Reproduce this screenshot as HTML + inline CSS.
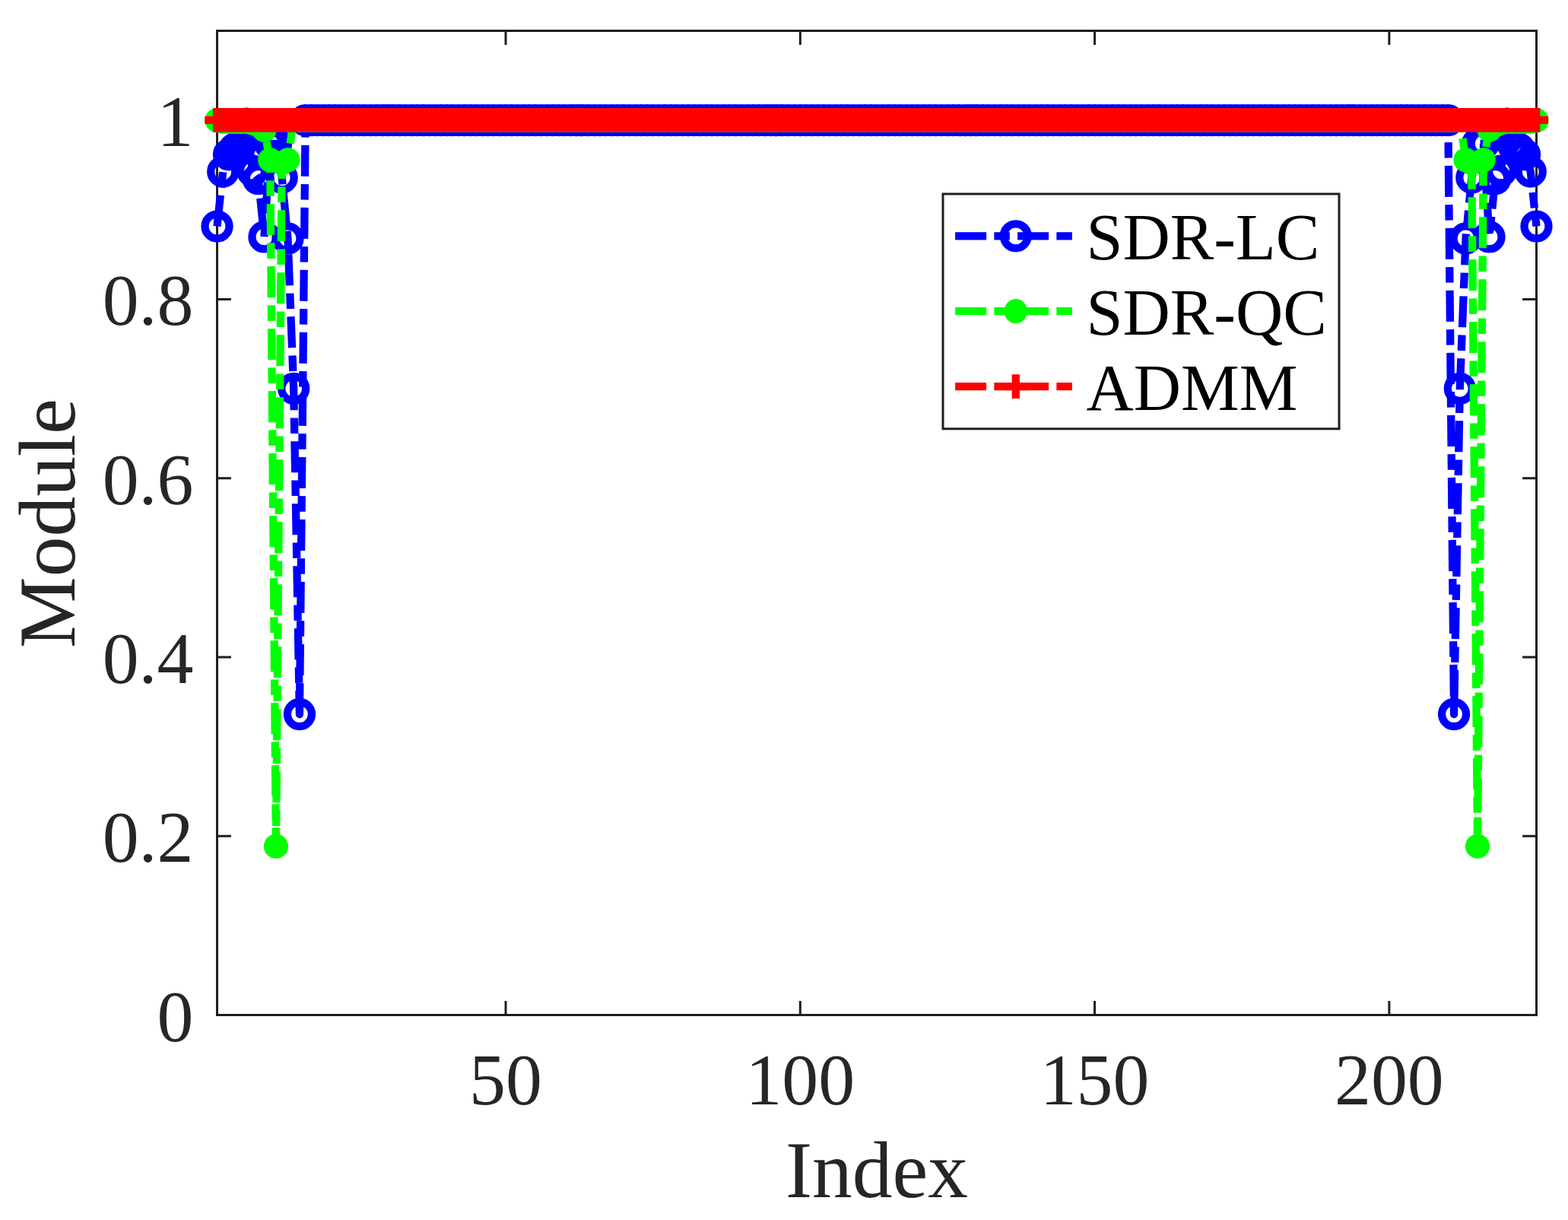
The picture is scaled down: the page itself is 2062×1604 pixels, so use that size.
<!DOCTYPE html>
<html lang="en"><head><meta charset="utf-8"><title>Module vs Index</title>
<style>html,body{margin:0;padding:0;background:#fff}body{width:2062px;height:1604px;overflow:hidden}svg{display:block}text{font-family:"Liberation Serif","Times New Roman",Times,serif}.t{font-size:95.83px;fill:#262626}.l{font-size:105.40px;fill:#262626}.g{font-size:86.25px;fill:#000}</style></head><body>
<svg width="2062" height="1604" viewBox="0 0 2062 1604" role="img" aria-label="Module versus Index for SDR-LC, SDR-QC and ADMM">
<rect x="0" y="0" width="2062" height="1604" fill="#ffffff"/>
<g stroke="#1e1e1e" stroke-width="3.00" fill="none" stroke-linecap="butt">
<rect x="285.50" y="40.50" width="1735.00" height="1294.00"/>
<path d="M665.03 1334.50V1316.10M665.03 40.50V58.90M1052.31 1334.50V1316.10M1052.31 40.50V58.90M1439.58 1334.50V1316.10M1439.58 40.50V58.90M1826.86 1334.50V1316.10M1826.86 40.50V58.90M285.50 1334.50H303.90M2020.50 1334.50H2002.10M285.50 1099.23H303.90M2020.50 1099.23H2002.10M285.50 863.95H303.90M2020.50 863.95H2002.10M285.50 628.68H303.90M2020.50 628.68H2002.10M285.50 393.41H303.90M2020.50 393.41H2002.10M285.50 158.14H303.90M2020.50 158.14H2002.10"/>
</g>
<text class="t" x="665.03" y="1452.00" text-anchor="middle">50</text>
<text class="t" x="1052.31" y="1452.00" text-anchor="middle">100</text>
<text class="t" x="1439.58" y="1452.00" text-anchor="middle">150</text>
<text class="t" x="1826.86" y="1452.00" text-anchor="middle">200</text>
<text class="t" x="254.50" y="1368.50" text-anchor="end">0</text>
<text class="t" x="254.50" y="1133.23" text-anchor="end">0.2</text>
<text class="t" x="254.50" y="897.95" text-anchor="end">0.4</text>
<text class="t" x="254.50" y="662.68" text-anchor="end">0.6</text>
<text class="t" x="254.50" y="427.41" text-anchor="end">0.8</text>
<text class="t" x="254.50" y="192.14" text-anchor="end">1</text>
<text class="l" x="1153.00" y="1573.50" text-anchor="middle">Index</text>
<text class="l" transform="translate(98.20 688.00) rotate(-90)" text-anchor="middle">Module</text>
<g stroke="#0000ff" fill="none" stroke-width="10.30">
<polyline points="285.50,297.54 293.25,225.66 300.99,203.31 308.74,195.54 316.48,189.90 324.23,162.61 331.97,224.48 339.72,235.19 347.46,311.42 355.21,188.96 362.96,188.96 370.70,233.42 378.45,313.42 386.19,510.81 393.94,939.01 401.68,158.14 409.43,158.14 417.17,158.14 424.92,158.14 432.67,158.14 440.41,158.14 448.16,158.14 455.90,158.14 463.65,158.14 471.39,158.14 479.14,158.14 486.88,158.14 494.63,158.14 502.38,158.14 510.12,158.14 517.87,158.14 525.61,158.14 533.36,158.14 541.10,158.14 548.85,158.14 556.59,158.14 564.34,158.14 572.08,158.14 579.83,158.14 587.58,158.14 595.32,158.14 603.07,158.14 610.81,158.14 618.56,158.14 626.30,158.14 634.05,158.14 641.79,158.14 649.54,158.14 657.29,158.14 665.03,158.14 672.78,158.14 680.52,158.14 688.27,158.14 696.01,158.14 703.76,158.14 711.50,158.14 719.25,158.14 727.00,158.14 734.74,158.14 742.49,158.14 750.23,158.14 757.98,158.14 765.72,158.14 773.47,158.14 781.21,158.14 788.96,158.14 796.71,158.14 804.45,158.14 812.20,158.14 819.94,158.14 827.69,158.14 835.43,158.14 843.18,158.14 850.92,158.14 858.67,158.14 866.42,158.14 874.16,158.14 881.91,158.14 889.65,158.14 897.40,158.14 905.14,158.14 912.89,158.14 920.63,158.14 928.38,158.14 936.12,158.14 943.87,158.14 951.62,158.14 959.36,158.14 967.11,158.14 974.85,158.14 982.60,158.14 990.34,158.14 998.09,158.14 1005.83,158.14 1013.58,158.14 1021.33,158.14 1029.07,158.14 1036.82,158.14 1044.56,158.14 1052.31,158.14 1060.05,158.14 1067.80,158.14 1075.54,158.14 1083.29,158.14 1091.04,158.14 1098.78,158.14 1106.53,158.14 1114.27,158.14 1122.02,158.14 1129.76,158.14 1137.51,158.14 1145.25,158.14 1153.00,158.14" stroke-dasharray="41 10.25 20.5 10.25" stroke-dashoffset="0.00" stroke-linejoin="round"/>
<polyline points="1153.00,158.14 1160.75,158.14 1168.49,158.14 1176.24,158.14 1183.98,158.14 1191.73,158.14 1199.47,158.14 1207.22,158.14 1214.96,158.14 1222.71,158.14 1230.46,158.14 1238.20,158.14 1245.95,158.14 1253.69,158.14 1261.44,158.14 1269.18,158.14 1276.93,158.14 1284.67,158.14 1292.42,158.14 1300.17,158.14 1307.91,158.14 1315.66,158.14 1323.40,158.14 1331.15,158.14 1338.89,158.14 1346.64,158.14 1354.38,158.14 1362.13,158.14 1369.88,158.14 1377.62,158.14 1385.37,158.14 1393.11,158.14 1400.86,158.14 1408.60,158.14 1416.35,158.14 1424.09,158.14 1431.84,158.14 1439.58,158.14 1447.33,158.14 1455.08,158.14 1462.82,158.14 1470.57,158.14 1478.31,158.14 1486.06,158.14 1493.80,158.14 1501.55,158.14 1509.29,158.14 1517.04,158.14 1524.79,158.14 1532.53,158.14 1540.28,158.14 1548.02,158.14 1555.77,158.14 1563.51,158.14 1571.26,158.14 1579.00,158.14 1586.75,158.14 1594.50,158.14 1602.24,158.14 1609.99,158.14 1617.73,158.14 1625.48,158.14 1633.22,158.14 1640.97,158.14 1648.71,158.14 1656.46,158.14 1664.21,158.14 1671.95,158.14 1679.70,158.14 1687.44,158.14 1695.19,158.14 1702.93,158.14 1710.68,158.14 1718.42,158.14 1726.17,158.14 1733.92,158.14 1741.66,158.14 1749.41,158.14 1757.15,158.14 1764.90,158.14 1772.64,158.14 1780.39,158.14 1788.13,158.14 1795.88,158.14 1803.62,158.14 1811.37,158.14 1819.12,158.14 1826.86,158.14 1834.61,158.14 1842.35,158.14 1850.10,158.14 1857.84,158.14 1865.59,158.14 1873.33,158.14 1881.08,158.14 1888.83,158.14 1896.57,158.14 1904.32,158.14 1912.06,939.01 1919.81,510.81 1927.55,313.42 1935.30,233.42 1943.04,188.96 1950.79,188.96 1958.54,311.42 1966.28,235.19 1974.03,224.48 1981.77,162.61 1989.52,189.90 1997.26,195.54 2005.01,203.31 2012.75,225.66 2020.50,297.54" stroke-dasharray="41 10.25 20.5 10.25" stroke-dashoffset="8.95" stroke-linejoin="round"/>
<circle cx="285.50" cy="297.54" r="16.00"/>
<circle cx="293.25" cy="225.66" r="16.00"/>
<circle cx="300.99" cy="203.31" r="16.00"/>
<circle cx="308.74" cy="195.54" r="16.00"/>
<circle cx="316.48" cy="189.90" r="16.00"/>
<circle cx="324.23" cy="162.61" r="16.00"/>
<circle cx="331.97" cy="224.48" r="16.00"/>
<circle cx="339.72" cy="235.19" r="16.00"/>
<circle cx="347.46" cy="311.42" r="16.00"/>
<circle cx="355.21" cy="188.96" r="16.00"/>
<circle cx="362.96" cy="188.96" r="16.00"/>
<circle cx="370.70" cy="233.42" r="16.00"/>
<circle cx="378.45" cy="313.42" r="16.00"/>
<circle cx="386.19" cy="510.81" r="16.00"/>
<circle cx="393.94" cy="939.01" r="16.00"/>
<circle cx="401.68" cy="158.14" r="16.00"/>
<circle cx="409.43" cy="158.14" r="16.00"/>
<circle cx="417.17" cy="158.14" r="16.00"/>
<circle cx="424.92" cy="158.14" r="16.00"/>
<circle cx="432.67" cy="158.14" r="16.00"/>
<circle cx="440.41" cy="158.14" r="16.00"/>
<circle cx="448.16" cy="158.14" r="16.00"/>
<circle cx="455.90" cy="158.14" r="16.00"/>
<circle cx="463.65" cy="158.14" r="16.00"/>
<circle cx="471.39" cy="158.14" r="16.00"/>
<circle cx="479.14" cy="158.14" r="16.00"/>
<circle cx="486.88" cy="158.14" r="16.00"/>
<circle cx="494.63" cy="158.14" r="16.00"/>
<circle cx="502.38" cy="158.14" r="16.00"/>
<circle cx="510.12" cy="158.14" r="16.00"/>
<circle cx="517.87" cy="158.14" r="16.00"/>
<circle cx="525.61" cy="158.14" r="16.00"/>
<circle cx="533.36" cy="158.14" r="16.00"/>
<circle cx="541.10" cy="158.14" r="16.00"/>
<circle cx="548.85" cy="158.14" r="16.00"/>
<circle cx="556.59" cy="158.14" r="16.00"/>
<circle cx="564.34" cy="158.14" r="16.00"/>
<circle cx="572.08" cy="158.14" r="16.00"/>
<circle cx="579.83" cy="158.14" r="16.00"/>
<circle cx="587.58" cy="158.14" r="16.00"/>
<circle cx="595.32" cy="158.14" r="16.00"/>
<circle cx="603.07" cy="158.14" r="16.00"/>
<circle cx="610.81" cy="158.14" r="16.00"/>
<circle cx="618.56" cy="158.14" r="16.00"/>
<circle cx="626.30" cy="158.14" r="16.00"/>
<circle cx="634.05" cy="158.14" r="16.00"/>
<circle cx="641.79" cy="158.14" r="16.00"/>
<circle cx="649.54" cy="158.14" r="16.00"/>
<circle cx="657.29" cy="158.14" r="16.00"/>
<circle cx="665.03" cy="158.14" r="16.00"/>
<circle cx="672.78" cy="158.14" r="16.00"/>
<circle cx="680.52" cy="158.14" r="16.00"/>
<circle cx="688.27" cy="158.14" r="16.00"/>
<circle cx="696.01" cy="158.14" r="16.00"/>
<circle cx="703.76" cy="158.14" r="16.00"/>
<circle cx="711.50" cy="158.14" r="16.00"/>
<circle cx="719.25" cy="158.14" r="16.00"/>
<circle cx="727.00" cy="158.14" r="16.00"/>
<circle cx="734.74" cy="158.14" r="16.00"/>
<circle cx="742.49" cy="158.14" r="16.00"/>
<circle cx="750.23" cy="158.14" r="16.00"/>
<circle cx="757.98" cy="158.14" r="16.00"/>
<circle cx="765.72" cy="158.14" r="16.00"/>
<circle cx="773.47" cy="158.14" r="16.00"/>
<circle cx="781.21" cy="158.14" r="16.00"/>
<circle cx="788.96" cy="158.14" r="16.00"/>
<circle cx="796.71" cy="158.14" r="16.00"/>
<circle cx="804.45" cy="158.14" r="16.00"/>
<circle cx="812.20" cy="158.14" r="16.00"/>
<circle cx="819.94" cy="158.14" r="16.00"/>
<circle cx="827.69" cy="158.14" r="16.00"/>
<circle cx="835.43" cy="158.14" r="16.00"/>
<circle cx="843.18" cy="158.14" r="16.00"/>
<circle cx="850.92" cy="158.14" r="16.00"/>
<circle cx="858.67" cy="158.14" r="16.00"/>
<circle cx="866.42" cy="158.14" r="16.00"/>
<circle cx="874.16" cy="158.14" r="16.00"/>
<circle cx="881.91" cy="158.14" r="16.00"/>
<circle cx="889.65" cy="158.14" r="16.00"/>
<circle cx="897.40" cy="158.14" r="16.00"/>
<circle cx="905.14" cy="158.14" r="16.00"/>
<circle cx="912.89" cy="158.14" r="16.00"/>
<circle cx="920.63" cy="158.14" r="16.00"/>
<circle cx="928.38" cy="158.14" r="16.00"/>
<circle cx="936.12" cy="158.14" r="16.00"/>
<circle cx="943.87" cy="158.14" r="16.00"/>
<circle cx="951.62" cy="158.14" r="16.00"/>
<circle cx="959.36" cy="158.14" r="16.00"/>
<circle cx="967.11" cy="158.14" r="16.00"/>
<circle cx="974.85" cy="158.14" r="16.00"/>
<circle cx="982.60" cy="158.14" r="16.00"/>
<circle cx="990.34" cy="158.14" r="16.00"/>
<circle cx="998.09" cy="158.14" r="16.00"/>
<circle cx="1005.83" cy="158.14" r="16.00"/>
<circle cx="1013.58" cy="158.14" r="16.00"/>
<circle cx="1021.33" cy="158.14" r="16.00"/>
<circle cx="1029.07" cy="158.14" r="16.00"/>
<circle cx="1036.82" cy="158.14" r="16.00"/>
<circle cx="1044.56" cy="158.14" r="16.00"/>
<circle cx="1052.31" cy="158.14" r="16.00"/>
<circle cx="1060.05" cy="158.14" r="16.00"/>
<circle cx="1067.80" cy="158.14" r="16.00"/>
<circle cx="1075.54" cy="158.14" r="16.00"/>
<circle cx="1083.29" cy="158.14" r="16.00"/>
<circle cx="1091.04" cy="158.14" r="16.00"/>
<circle cx="1098.78" cy="158.14" r="16.00"/>
<circle cx="1106.53" cy="158.14" r="16.00"/>
<circle cx="1114.27" cy="158.14" r="16.00"/>
<circle cx="1122.02" cy="158.14" r="16.00"/>
<circle cx="1129.76" cy="158.14" r="16.00"/>
<circle cx="1137.51" cy="158.14" r="16.00"/>
<circle cx="1145.25" cy="158.14" r="16.00"/>
<circle cx="1153.00" cy="158.14" r="16.00"/>
<circle cx="1160.75" cy="158.14" r="16.00"/>
<circle cx="1168.49" cy="158.14" r="16.00"/>
<circle cx="1176.24" cy="158.14" r="16.00"/>
<circle cx="1183.98" cy="158.14" r="16.00"/>
<circle cx="1191.73" cy="158.14" r="16.00"/>
<circle cx="1199.47" cy="158.14" r="16.00"/>
<circle cx="1207.22" cy="158.14" r="16.00"/>
<circle cx="1214.96" cy="158.14" r="16.00"/>
<circle cx="1222.71" cy="158.14" r="16.00"/>
<circle cx="1230.46" cy="158.14" r="16.00"/>
<circle cx="1238.20" cy="158.14" r="16.00"/>
<circle cx="1245.95" cy="158.14" r="16.00"/>
<circle cx="1253.69" cy="158.14" r="16.00"/>
<circle cx="1261.44" cy="158.14" r="16.00"/>
<circle cx="1269.18" cy="158.14" r="16.00"/>
<circle cx="1276.93" cy="158.14" r="16.00"/>
<circle cx="1284.67" cy="158.14" r="16.00"/>
<circle cx="1292.42" cy="158.14" r="16.00"/>
<circle cx="1300.17" cy="158.14" r="16.00"/>
<circle cx="1307.91" cy="158.14" r="16.00"/>
<circle cx="1315.66" cy="158.14" r="16.00"/>
<circle cx="1323.40" cy="158.14" r="16.00"/>
<circle cx="1331.15" cy="158.14" r="16.00"/>
<circle cx="1338.89" cy="158.14" r="16.00"/>
<circle cx="1346.64" cy="158.14" r="16.00"/>
<circle cx="1354.38" cy="158.14" r="16.00"/>
<circle cx="1362.13" cy="158.14" r="16.00"/>
<circle cx="1369.88" cy="158.14" r="16.00"/>
<circle cx="1377.62" cy="158.14" r="16.00"/>
<circle cx="1385.37" cy="158.14" r="16.00"/>
<circle cx="1393.11" cy="158.14" r="16.00"/>
<circle cx="1400.86" cy="158.14" r="16.00"/>
<circle cx="1408.60" cy="158.14" r="16.00"/>
<circle cx="1416.35" cy="158.14" r="16.00"/>
<circle cx="1424.09" cy="158.14" r="16.00"/>
<circle cx="1431.84" cy="158.14" r="16.00"/>
<circle cx="1439.58" cy="158.14" r="16.00"/>
<circle cx="1447.33" cy="158.14" r="16.00"/>
<circle cx="1455.08" cy="158.14" r="16.00"/>
<circle cx="1462.82" cy="158.14" r="16.00"/>
<circle cx="1470.57" cy="158.14" r="16.00"/>
<circle cx="1478.31" cy="158.14" r="16.00"/>
<circle cx="1486.06" cy="158.14" r="16.00"/>
<circle cx="1493.80" cy="158.14" r="16.00"/>
<circle cx="1501.55" cy="158.14" r="16.00"/>
<circle cx="1509.29" cy="158.14" r="16.00"/>
<circle cx="1517.04" cy="158.14" r="16.00"/>
<circle cx="1524.79" cy="158.14" r="16.00"/>
<circle cx="1532.53" cy="158.14" r="16.00"/>
<circle cx="1540.28" cy="158.14" r="16.00"/>
<circle cx="1548.02" cy="158.14" r="16.00"/>
<circle cx="1555.77" cy="158.14" r="16.00"/>
<circle cx="1563.51" cy="158.14" r="16.00"/>
<circle cx="1571.26" cy="158.14" r="16.00"/>
<circle cx="1579.00" cy="158.14" r="16.00"/>
<circle cx="1586.75" cy="158.14" r="16.00"/>
<circle cx="1594.50" cy="158.14" r="16.00"/>
<circle cx="1602.24" cy="158.14" r="16.00"/>
<circle cx="1609.99" cy="158.14" r="16.00"/>
<circle cx="1617.73" cy="158.14" r="16.00"/>
<circle cx="1625.48" cy="158.14" r="16.00"/>
<circle cx="1633.22" cy="158.14" r="16.00"/>
<circle cx="1640.97" cy="158.14" r="16.00"/>
<circle cx="1648.71" cy="158.14" r="16.00"/>
<circle cx="1656.46" cy="158.14" r="16.00"/>
<circle cx="1664.21" cy="158.14" r="16.00"/>
<circle cx="1671.95" cy="158.14" r="16.00"/>
<circle cx="1679.70" cy="158.14" r="16.00"/>
<circle cx="1687.44" cy="158.14" r="16.00"/>
<circle cx="1695.19" cy="158.14" r="16.00"/>
<circle cx="1702.93" cy="158.14" r="16.00"/>
<circle cx="1710.68" cy="158.14" r="16.00"/>
<circle cx="1718.42" cy="158.14" r="16.00"/>
<circle cx="1726.17" cy="158.14" r="16.00"/>
<circle cx="1733.92" cy="158.14" r="16.00"/>
<circle cx="1741.66" cy="158.14" r="16.00"/>
<circle cx="1749.41" cy="158.14" r="16.00"/>
<circle cx="1757.15" cy="158.14" r="16.00"/>
<circle cx="1764.90" cy="158.14" r="16.00"/>
<circle cx="1772.64" cy="158.14" r="16.00"/>
<circle cx="1780.39" cy="158.14" r="16.00"/>
<circle cx="1788.13" cy="158.14" r="16.00"/>
<circle cx="1795.88" cy="158.14" r="16.00"/>
<circle cx="1803.62" cy="158.14" r="16.00"/>
<circle cx="1811.37" cy="158.14" r="16.00"/>
<circle cx="1819.12" cy="158.14" r="16.00"/>
<circle cx="1826.86" cy="158.14" r="16.00"/>
<circle cx="1834.61" cy="158.14" r="16.00"/>
<circle cx="1842.35" cy="158.14" r="16.00"/>
<circle cx="1850.10" cy="158.14" r="16.00"/>
<circle cx="1857.84" cy="158.14" r="16.00"/>
<circle cx="1865.59" cy="158.14" r="16.00"/>
<circle cx="1873.33" cy="158.14" r="16.00"/>
<circle cx="1881.08" cy="158.14" r="16.00"/>
<circle cx="1888.83" cy="158.14" r="16.00"/>
<circle cx="1896.57" cy="158.14" r="16.00"/>
<circle cx="1904.32" cy="158.14" r="16.00"/>
<circle cx="1912.06" cy="939.01" r="16.00"/>
<circle cx="1919.81" cy="510.81" r="16.00"/>
<circle cx="1927.55" cy="313.42" r="16.00"/>
<circle cx="1935.30" cy="233.42" r="16.00"/>
<circle cx="1943.04" cy="188.96" r="16.00"/>
<circle cx="1950.79" cy="188.96" r="16.00"/>
<circle cx="1958.54" cy="311.42" r="16.00"/>
<circle cx="1966.28" cy="235.19" r="16.00"/>
<circle cx="1974.03" cy="224.48" r="16.00"/>
<circle cx="1981.77" cy="162.61" r="16.00"/>
<circle cx="1989.52" cy="189.90" r="16.00"/>
<circle cx="1997.26" cy="195.54" r="16.00"/>
<circle cx="2005.01" cy="203.31" r="16.00"/>
<circle cx="2012.75" cy="225.66" r="16.00"/>
<circle cx="2020.50" cy="297.54" r="16.00"/>
</g>
<g stroke="#00ff00" fill="none" stroke-width="10.30">
<polyline points="285.50,158.14 293.25,159.90 300.99,159.90 308.74,159.90 316.48,159.90 324.23,159.90 331.97,161.67 339.72,164.61 347.46,170.96 355.21,210.25 362.96,1112.64 370.70,214.48 378.45,210.25 386.19,158.14 393.94,158.14 401.68,158.14 409.43,158.14 417.17,158.14 424.92,158.14 432.67,158.14 440.41,158.14 448.16,158.14 455.90,158.14 463.65,158.14 471.39,158.14 479.14,158.14 486.88,158.14 494.63,158.14 502.38,158.14 510.12,158.14 517.87,158.14 525.61,158.14 533.36,158.14 541.10,158.14 548.85,158.14 556.59,158.14 564.34,158.14 572.08,158.14 579.83,158.14 587.58,158.14 595.32,158.14 603.07,158.14 610.81,158.14 618.56,158.14 626.30,158.14 634.05,158.14 641.79,158.14 649.54,158.14 657.29,158.14 665.03,158.14 672.78,158.14 680.52,158.14 688.27,158.14 696.01,158.14 703.76,158.14 711.50,158.14 719.25,158.14 727.00,158.14 734.74,158.14 742.49,158.14 750.23,158.14 757.98,158.14 765.72,158.14 773.47,158.14 781.21,158.14 788.96,158.14 796.71,158.14 804.45,158.14 812.20,158.14 819.94,158.14 827.69,158.14 835.43,158.14 843.18,158.14 850.92,158.14 858.67,158.14 866.42,158.14 874.16,158.14 881.91,158.14 889.65,158.14 897.40,158.14 905.14,158.14 912.89,158.14 920.63,158.14 928.38,158.14 936.12,158.14 943.87,158.14 951.62,158.14 959.36,158.14 967.11,158.14 974.85,158.14 982.60,158.14 990.34,158.14 998.09,158.14 1005.83,158.14 1013.58,158.14 1021.33,158.14 1029.07,158.14 1036.82,158.14 1044.56,158.14 1052.31,158.14 1060.05,158.14 1067.80,158.14 1075.54,158.14 1083.29,158.14 1091.04,158.14 1098.78,158.14 1106.53,158.14 1114.27,158.14 1122.02,158.14 1129.76,158.14 1137.51,158.14 1145.25,158.14 1153.00,158.14 1160.75,158.14 1168.49,158.14 1176.24,158.14 1183.98,158.14 1191.73,158.14 1199.47,158.14 1207.22,158.14 1214.96,158.14 1222.71,158.14 1230.46,158.14 1238.20,158.14 1245.95,158.14 1253.69,158.14 1261.44,158.14 1269.18,158.14 1276.93,158.14 1284.67,158.14 1292.42,158.14 1300.17,158.14 1307.91,158.14 1315.66,158.14 1323.40,158.14 1331.15,158.14 1338.89,158.14 1346.64,158.14 1354.38,158.14 1362.13,158.14 1369.88,158.14 1377.62,158.14 1385.37,158.14 1393.11,158.14 1400.86,158.14 1408.60,158.14 1416.35,158.14 1424.09,158.14 1431.84,158.14 1439.58,158.14 1447.33,158.14 1455.08,158.14 1462.82,158.14 1470.57,158.14 1478.31,158.14 1486.06,158.14 1493.80,158.14 1501.55,158.14 1509.29,158.14 1517.04,158.14 1524.79,158.14 1532.53,158.14 1540.28,158.14 1548.02,158.14 1555.77,158.14 1563.51,158.14 1571.26,158.14 1579.00,158.14 1586.75,158.14 1594.50,158.14 1602.24,158.14 1609.99,158.14 1617.73,158.14 1625.48,158.14 1633.22,158.14 1640.97,158.14 1648.71,158.14 1656.46,158.14 1664.21,158.14 1671.95,158.14 1679.70,158.14 1687.44,158.14 1695.19,158.14 1702.93,158.14 1710.68,158.14 1718.42,158.14 1726.17,158.14 1733.92,158.14 1741.66,158.14 1749.41,158.14 1757.15,158.14 1764.90,158.14 1772.64,158.14 1780.39,158.14 1788.13,158.14 1795.88,158.14 1803.62,158.14 1811.37,158.14 1819.12,158.14 1826.86,158.14 1834.61,158.14 1842.35,158.14 1850.10,158.14 1857.84,158.14 1865.59,158.14 1873.33,158.14 1881.08,158.14 1888.83,158.14 1896.57,158.14 1904.32,158.14 1912.06,158.14 1919.81,158.14 1927.55,210.25 1935.30,214.48 1943.04,1112.64 1950.79,210.25 1958.54,170.96 1966.28,164.61 1974.03,161.67 1981.77,159.90 1989.52,159.90 1997.26,159.90 2005.01,159.90 2012.75,159.90 2020.50,158.14" stroke-dasharray="41 10.25 20.5 10.25" stroke-dashoffset="0.90" stroke-linejoin="round"/>
</g><g fill="#00ff00">
<circle cx="285.50" cy="158.14" r="16.10"/>
<circle cx="293.25" cy="159.90" r="16.10"/>
<circle cx="300.99" cy="159.90" r="16.10"/>
<circle cx="308.74" cy="159.90" r="16.10"/>
<circle cx="316.48" cy="159.90" r="16.10"/>
<circle cx="324.23" cy="159.90" r="16.10"/>
<circle cx="331.97" cy="161.67" r="16.10"/>
<circle cx="339.72" cy="164.61" r="16.10"/>
<circle cx="347.46" cy="170.96" r="16.10"/>
<circle cx="355.21" cy="210.25" r="16.10"/>
<circle cx="362.96" cy="1112.64" r="16.10"/>
<circle cx="370.70" cy="214.48" r="16.10"/>
<circle cx="378.45" cy="210.25" r="16.10"/>
<circle cx="386.19" cy="158.14" r="16.10"/>
<circle cx="393.94" cy="158.14" r="16.10"/>
<circle cx="401.68" cy="158.14" r="16.10"/>
<circle cx="409.43" cy="158.14" r="16.10"/>
<circle cx="417.17" cy="158.14" r="16.10"/>
<circle cx="424.92" cy="158.14" r="16.10"/>
<circle cx="432.67" cy="158.14" r="16.10"/>
<circle cx="440.41" cy="158.14" r="16.10"/>
<circle cx="448.16" cy="158.14" r="16.10"/>
<circle cx="455.90" cy="158.14" r="16.10"/>
<circle cx="463.65" cy="158.14" r="16.10"/>
<circle cx="471.39" cy="158.14" r="16.10"/>
<circle cx="479.14" cy="158.14" r="16.10"/>
<circle cx="486.88" cy="158.14" r="16.10"/>
<circle cx="494.63" cy="158.14" r="16.10"/>
<circle cx="502.38" cy="158.14" r="16.10"/>
<circle cx="510.12" cy="158.14" r="16.10"/>
<circle cx="517.87" cy="158.14" r="16.10"/>
<circle cx="525.61" cy="158.14" r="16.10"/>
<circle cx="533.36" cy="158.14" r="16.10"/>
<circle cx="541.10" cy="158.14" r="16.10"/>
<circle cx="548.85" cy="158.14" r="16.10"/>
<circle cx="556.59" cy="158.14" r="16.10"/>
<circle cx="564.34" cy="158.14" r="16.10"/>
<circle cx="572.08" cy="158.14" r="16.10"/>
<circle cx="579.83" cy="158.14" r="16.10"/>
<circle cx="587.58" cy="158.14" r="16.10"/>
<circle cx="595.32" cy="158.14" r="16.10"/>
<circle cx="603.07" cy="158.14" r="16.10"/>
<circle cx="610.81" cy="158.14" r="16.10"/>
<circle cx="618.56" cy="158.14" r="16.10"/>
<circle cx="626.30" cy="158.14" r="16.10"/>
<circle cx="634.05" cy="158.14" r="16.10"/>
<circle cx="641.79" cy="158.14" r="16.10"/>
<circle cx="649.54" cy="158.14" r="16.10"/>
<circle cx="657.29" cy="158.14" r="16.10"/>
<circle cx="665.03" cy="158.14" r="16.10"/>
<circle cx="672.78" cy="158.14" r="16.10"/>
<circle cx="680.52" cy="158.14" r="16.10"/>
<circle cx="688.27" cy="158.14" r="16.10"/>
<circle cx="696.01" cy="158.14" r="16.10"/>
<circle cx="703.76" cy="158.14" r="16.10"/>
<circle cx="711.50" cy="158.14" r="16.10"/>
<circle cx="719.25" cy="158.14" r="16.10"/>
<circle cx="727.00" cy="158.14" r="16.10"/>
<circle cx="734.74" cy="158.14" r="16.10"/>
<circle cx="742.49" cy="158.14" r="16.10"/>
<circle cx="750.23" cy="158.14" r="16.10"/>
<circle cx="757.98" cy="158.14" r="16.10"/>
<circle cx="765.72" cy="158.14" r="16.10"/>
<circle cx="773.47" cy="158.14" r="16.10"/>
<circle cx="781.21" cy="158.14" r="16.10"/>
<circle cx="788.96" cy="158.14" r="16.10"/>
<circle cx="796.71" cy="158.14" r="16.10"/>
<circle cx="804.45" cy="158.14" r="16.10"/>
<circle cx="812.20" cy="158.14" r="16.10"/>
<circle cx="819.94" cy="158.14" r="16.10"/>
<circle cx="827.69" cy="158.14" r="16.10"/>
<circle cx="835.43" cy="158.14" r="16.10"/>
<circle cx="843.18" cy="158.14" r="16.10"/>
<circle cx="850.92" cy="158.14" r="16.10"/>
<circle cx="858.67" cy="158.14" r="16.10"/>
<circle cx="866.42" cy="158.14" r="16.10"/>
<circle cx="874.16" cy="158.14" r="16.10"/>
<circle cx="881.91" cy="158.14" r="16.10"/>
<circle cx="889.65" cy="158.14" r="16.10"/>
<circle cx="897.40" cy="158.14" r="16.10"/>
<circle cx="905.14" cy="158.14" r="16.10"/>
<circle cx="912.89" cy="158.14" r="16.10"/>
<circle cx="920.63" cy="158.14" r="16.10"/>
<circle cx="928.38" cy="158.14" r="16.10"/>
<circle cx="936.12" cy="158.14" r="16.10"/>
<circle cx="943.87" cy="158.14" r="16.10"/>
<circle cx="951.62" cy="158.14" r="16.10"/>
<circle cx="959.36" cy="158.14" r="16.10"/>
<circle cx="967.11" cy="158.14" r="16.10"/>
<circle cx="974.85" cy="158.14" r="16.10"/>
<circle cx="982.60" cy="158.14" r="16.10"/>
<circle cx="990.34" cy="158.14" r="16.10"/>
<circle cx="998.09" cy="158.14" r="16.10"/>
<circle cx="1005.83" cy="158.14" r="16.10"/>
<circle cx="1013.58" cy="158.14" r="16.10"/>
<circle cx="1021.33" cy="158.14" r="16.10"/>
<circle cx="1029.07" cy="158.14" r="16.10"/>
<circle cx="1036.82" cy="158.14" r="16.10"/>
<circle cx="1044.56" cy="158.14" r="16.10"/>
<circle cx="1052.31" cy="158.14" r="16.10"/>
<circle cx="1060.05" cy="158.14" r="16.10"/>
<circle cx="1067.80" cy="158.14" r="16.10"/>
<circle cx="1075.54" cy="158.14" r="16.10"/>
<circle cx="1083.29" cy="158.14" r="16.10"/>
<circle cx="1091.04" cy="158.14" r="16.10"/>
<circle cx="1098.78" cy="158.14" r="16.10"/>
<circle cx="1106.53" cy="158.14" r="16.10"/>
<circle cx="1114.27" cy="158.14" r="16.10"/>
<circle cx="1122.02" cy="158.14" r="16.10"/>
<circle cx="1129.76" cy="158.14" r="16.10"/>
<circle cx="1137.51" cy="158.14" r="16.10"/>
<circle cx="1145.25" cy="158.14" r="16.10"/>
<circle cx="1153.00" cy="158.14" r="16.10"/>
<circle cx="1160.75" cy="158.14" r="16.10"/>
<circle cx="1168.49" cy="158.14" r="16.10"/>
<circle cx="1176.24" cy="158.14" r="16.10"/>
<circle cx="1183.98" cy="158.14" r="16.10"/>
<circle cx="1191.73" cy="158.14" r="16.10"/>
<circle cx="1199.47" cy="158.14" r="16.10"/>
<circle cx="1207.22" cy="158.14" r="16.10"/>
<circle cx="1214.96" cy="158.14" r="16.10"/>
<circle cx="1222.71" cy="158.14" r="16.10"/>
<circle cx="1230.46" cy="158.14" r="16.10"/>
<circle cx="1238.20" cy="158.14" r="16.10"/>
<circle cx="1245.95" cy="158.14" r="16.10"/>
<circle cx="1253.69" cy="158.14" r="16.10"/>
<circle cx="1261.44" cy="158.14" r="16.10"/>
<circle cx="1269.18" cy="158.14" r="16.10"/>
<circle cx="1276.93" cy="158.14" r="16.10"/>
<circle cx="1284.67" cy="158.14" r="16.10"/>
<circle cx="1292.42" cy="158.14" r="16.10"/>
<circle cx="1300.17" cy="158.14" r="16.10"/>
<circle cx="1307.91" cy="158.14" r="16.10"/>
<circle cx="1315.66" cy="158.14" r="16.10"/>
<circle cx="1323.40" cy="158.14" r="16.10"/>
<circle cx="1331.15" cy="158.14" r="16.10"/>
<circle cx="1338.89" cy="158.14" r="16.10"/>
<circle cx="1346.64" cy="158.14" r="16.10"/>
<circle cx="1354.38" cy="158.14" r="16.10"/>
<circle cx="1362.13" cy="158.14" r="16.10"/>
<circle cx="1369.88" cy="158.14" r="16.10"/>
<circle cx="1377.62" cy="158.14" r="16.10"/>
<circle cx="1385.37" cy="158.14" r="16.10"/>
<circle cx="1393.11" cy="158.14" r="16.10"/>
<circle cx="1400.86" cy="158.14" r="16.10"/>
<circle cx="1408.60" cy="158.14" r="16.10"/>
<circle cx="1416.35" cy="158.14" r="16.10"/>
<circle cx="1424.09" cy="158.14" r="16.10"/>
<circle cx="1431.84" cy="158.14" r="16.10"/>
<circle cx="1439.58" cy="158.14" r="16.10"/>
<circle cx="1447.33" cy="158.14" r="16.10"/>
<circle cx="1455.08" cy="158.14" r="16.10"/>
<circle cx="1462.82" cy="158.14" r="16.10"/>
<circle cx="1470.57" cy="158.14" r="16.10"/>
<circle cx="1478.31" cy="158.14" r="16.10"/>
<circle cx="1486.06" cy="158.14" r="16.10"/>
<circle cx="1493.80" cy="158.14" r="16.10"/>
<circle cx="1501.55" cy="158.14" r="16.10"/>
<circle cx="1509.29" cy="158.14" r="16.10"/>
<circle cx="1517.04" cy="158.14" r="16.10"/>
<circle cx="1524.79" cy="158.14" r="16.10"/>
<circle cx="1532.53" cy="158.14" r="16.10"/>
<circle cx="1540.28" cy="158.14" r="16.10"/>
<circle cx="1548.02" cy="158.14" r="16.10"/>
<circle cx="1555.77" cy="158.14" r="16.10"/>
<circle cx="1563.51" cy="158.14" r="16.10"/>
<circle cx="1571.26" cy="158.14" r="16.10"/>
<circle cx="1579.00" cy="158.14" r="16.10"/>
<circle cx="1586.75" cy="158.14" r="16.10"/>
<circle cx="1594.50" cy="158.14" r="16.10"/>
<circle cx="1602.24" cy="158.14" r="16.10"/>
<circle cx="1609.99" cy="158.14" r="16.10"/>
<circle cx="1617.73" cy="158.14" r="16.10"/>
<circle cx="1625.48" cy="158.14" r="16.10"/>
<circle cx="1633.22" cy="158.14" r="16.10"/>
<circle cx="1640.97" cy="158.14" r="16.10"/>
<circle cx="1648.71" cy="158.14" r="16.10"/>
<circle cx="1656.46" cy="158.14" r="16.10"/>
<circle cx="1664.21" cy="158.14" r="16.10"/>
<circle cx="1671.95" cy="158.14" r="16.10"/>
<circle cx="1679.70" cy="158.14" r="16.10"/>
<circle cx="1687.44" cy="158.14" r="16.10"/>
<circle cx="1695.19" cy="158.14" r="16.10"/>
<circle cx="1702.93" cy="158.14" r="16.10"/>
<circle cx="1710.68" cy="158.14" r="16.10"/>
<circle cx="1718.42" cy="158.14" r="16.10"/>
<circle cx="1726.17" cy="158.14" r="16.10"/>
<circle cx="1733.92" cy="158.14" r="16.10"/>
<circle cx="1741.66" cy="158.14" r="16.10"/>
<circle cx="1749.41" cy="158.14" r="16.10"/>
<circle cx="1757.15" cy="158.14" r="16.10"/>
<circle cx="1764.90" cy="158.14" r="16.10"/>
<circle cx="1772.64" cy="158.14" r="16.10"/>
<circle cx="1780.39" cy="158.14" r="16.10"/>
<circle cx="1788.13" cy="158.14" r="16.10"/>
<circle cx="1795.88" cy="158.14" r="16.10"/>
<circle cx="1803.62" cy="158.14" r="16.10"/>
<circle cx="1811.37" cy="158.14" r="16.10"/>
<circle cx="1819.12" cy="158.14" r="16.10"/>
<circle cx="1826.86" cy="158.14" r="16.10"/>
<circle cx="1834.61" cy="158.14" r="16.10"/>
<circle cx="1842.35" cy="158.14" r="16.10"/>
<circle cx="1850.10" cy="158.14" r="16.10"/>
<circle cx="1857.84" cy="158.14" r="16.10"/>
<circle cx="1865.59" cy="158.14" r="16.10"/>
<circle cx="1873.33" cy="158.14" r="16.10"/>
<circle cx="1881.08" cy="158.14" r="16.10"/>
<circle cx="1888.83" cy="158.14" r="16.10"/>
<circle cx="1896.57" cy="158.14" r="16.10"/>
<circle cx="1904.32" cy="158.14" r="16.10"/>
<circle cx="1912.06" cy="158.14" r="16.10"/>
<circle cx="1919.81" cy="158.14" r="16.10"/>
<circle cx="1927.55" cy="210.25" r="16.10"/>
<circle cx="1935.30" cy="214.48" r="16.10"/>
<circle cx="1943.04" cy="1112.64" r="16.10"/>
<circle cx="1950.79" cy="210.25" r="16.10"/>
<circle cx="1958.54" cy="170.96" r="16.10"/>
<circle cx="1966.28" cy="164.61" r="16.10"/>
<circle cx="1974.03" cy="161.67" r="16.10"/>
<circle cx="1981.77" cy="159.90" r="16.10"/>
<circle cx="1989.52" cy="159.90" r="16.10"/>
<circle cx="1997.26" cy="159.90" r="16.10"/>
<circle cx="2005.01" cy="159.90" r="16.10"/>
<circle cx="2012.75" cy="159.90" r="16.10"/>
<circle cx="2020.50" cy="158.14" r="16.10"/>
</g>
<g stroke="#ff0000" fill="none" stroke-width="10.30">
<polyline points="285.50,158.14 293.25,158.14 300.99,158.14 308.74,158.14 316.48,158.14 324.23,158.14 331.97,158.14 339.72,158.14 347.46,158.14 355.21,158.14 362.96,158.14 370.70,158.14 378.45,158.14 386.19,158.14 393.94,158.14 401.68,158.14 409.43,158.14 417.17,158.14 424.92,158.14 432.67,158.14 440.41,158.14 448.16,158.14 455.90,158.14 463.65,158.14 471.39,158.14 479.14,158.14 486.88,158.14 494.63,158.14 502.38,158.14 510.12,158.14 517.87,158.14 525.61,158.14 533.36,158.14 541.10,158.14 548.85,158.14 556.59,158.14 564.34,158.14 572.08,158.14 579.83,158.14 587.58,158.14 595.32,158.14 603.07,158.14 610.81,158.14 618.56,158.14 626.30,158.14 634.05,158.14 641.79,158.14 649.54,158.14 657.29,158.14 665.03,158.14 672.78,158.14 680.52,158.14 688.27,158.14 696.01,158.14 703.76,158.14 711.50,158.14 719.25,158.14 727.00,158.14 734.74,158.14 742.49,158.14 750.23,158.14 757.98,158.14 765.72,158.14 773.47,158.14 781.21,158.14 788.96,158.14 796.71,158.14 804.45,158.14 812.20,158.14 819.94,158.14 827.69,158.14 835.43,158.14 843.18,158.14 850.92,158.14 858.67,158.14 866.42,158.14 874.16,158.14 881.91,158.14 889.65,158.14 897.40,158.14 905.14,158.14 912.89,158.14 920.63,158.14 928.38,158.14 936.12,158.14 943.87,158.14 951.62,158.14 959.36,158.14 967.11,158.14 974.85,158.14 982.60,158.14 990.34,158.14 998.09,158.14 1005.83,158.14 1013.58,158.14 1021.33,158.14 1029.07,158.14 1036.82,158.14 1044.56,158.14 1052.31,158.14 1060.05,158.14 1067.80,158.14 1075.54,158.14 1083.29,158.14 1091.04,158.14 1098.78,158.14 1106.53,158.14 1114.27,158.14 1122.02,158.14 1129.76,158.14 1137.51,158.14 1145.25,158.14 1153.00,158.14 1160.75,158.14 1168.49,158.14 1176.24,158.14 1183.98,158.14 1191.73,158.14 1199.47,158.14 1207.22,158.14 1214.96,158.14 1222.71,158.14 1230.46,158.14 1238.20,158.14 1245.95,158.14 1253.69,158.14 1261.44,158.14 1269.18,158.14 1276.93,158.14 1284.67,158.14 1292.42,158.14 1300.17,158.14 1307.91,158.14 1315.66,158.14 1323.40,158.14 1331.15,158.14 1338.89,158.14 1346.64,158.14 1354.38,158.14 1362.13,158.14 1369.88,158.14 1377.62,158.14 1385.37,158.14 1393.11,158.14 1400.86,158.14 1408.60,158.14 1416.35,158.14 1424.09,158.14 1431.84,158.14 1439.58,158.14 1447.33,158.14 1455.08,158.14 1462.82,158.14 1470.57,158.14 1478.31,158.14 1486.06,158.14 1493.80,158.14 1501.55,158.14 1509.29,158.14 1517.04,158.14 1524.79,158.14 1532.53,158.14 1540.28,158.14 1548.02,158.14 1555.77,158.14 1563.51,158.14 1571.26,158.14 1579.00,158.14 1586.75,158.14 1594.50,158.14 1602.24,158.14 1609.99,158.14 1617.73,158.14 1625.48,158.14 1633.22,158.14 1640.97,158.14 1648.71,158.14 1656.46,158.14 1664.21,158.14 1671.95,158.14 1679.70,158.14 1687.44,158.14 1695.19,158.14 1702.93,158.14 1710.68,158.14 1718.42,158.14 1726.17,158.14 1733.92,158.14 1741.66,158.14 1749.41,158.14 1757.15,158.14 1764.90,158.14 1772.64,158.14 1780.39,158.14 1788.13,158.14 1795.88,158.14 1803.62,158.14 1811.37,158.14 1819.12,158.14 1826.86,158.14 1834.61,158.14 1842.35,158.14 1850.10,158.14 1857.84,158.14 1865.59,158.14 1873.33,158.14 1881.08,158.14 1888.83,158.14 1896.57,158.14 1904.32,158.14 1912.06,158.14 1919.81,158.14 1927.55,158.14 1935.30,158.14 1943.04,158.14 1950.79,158.14 1958.54,158.14 1966.28,158.14 1974.03,158.14 1981.77,158.14 1989.52,158.14 1997.26,158.14 2005.01,158.14 2012.75,158.14 2020.50,158.14" stroke-dasharray="41 10.25 20.5 10.25" stroke-linejoin="round"/>
<path d="M269.30 157.94h31.80M285.20 142.04v31.80M277.05 157.94h31.80M292.95 142.04v31.80M284.79 157.94h31.80M300.69 142.04v31.80M292.54 157.94h31.80M308.44 142.04v31.80M300.28 157.94h31.80M316.18 142.04v31.80M308.03 157.94h31.80M323.93 142.04v31.80M315.77 157.94h31.80M331.67 142.04v31.80M323.52 157.94h31.80M339.42 142.04v31.80M331.26 157.94h31.80M347.16 142.04v31.80M339.01 157.94h31.80M354.91 142.04v31.80M346.76 157.94h31.80M362.66 142.04v31.80M354.50 157.94h31.80M370.40 142.04v31.80M362.25 157.94h31.80M378.15 142.04v31.80M369.99 157.94h31.80M385.89 142.04v31.80M377.74 157.94h31.80M393.64 142.04v31.80M385.48 157.94h31.80M401.38 142.04v31.80M393.23 157.94h31.80M409.13 142.04v31.80M400.97 157.94h31.80M416.87 142.04v31.80M408.72 157.94h31.80M424.62 142.04v31.80M416.47 157.94h31.80M432.37 142.04v31.80M424.21 157.94h31.80M440.11 142.04v31.80M431.96 157.94h31.80M447.86 142.04v31.80M439.70 157.94h31.80M455.60 142.04v31.80M447.45 157.94h31.80M463.35 142.04v31.80M455.19 157.94h31.80M471.09 142.04v31.80M462.94 157.94h31.80M478.84 142.04v31.80M470.68 157.94h31.80M486.58 142.04v31.80M478.43 157.94h31.80M494.33 142.04v31.80M486.18 157.94h31.80M502.07 142.04v31.80M493.92 157.94h31.80M509.82 142.04v31.80M501.67 157.94h31.80M517.57 142.04v31.80M509.41 157.94h31.80M525.31 142.04v31.80M517.16 157.94h31.80M533.06 142.04v31.80M524.90 157.94h31.80M540.80 142.04v31.80M532.65 157.94h31.80M548.55 142.04v31.80M540.39 157.94h31.80M556.29 142.04v31.80M548.14 157.94h31.80M564.04 142.04v31.80M555.88 157.94h31.80M571.78 142.04v31.80M563.63 157.94h31.80M579.53 142.04v31.80M571.38 157.94h31.80M587.28 142.04v31.80M579.12 157.94h31.80M595.02 142.04v31.80M586.87 157.94h31.80M602.77 142.04v31.80M594.61 157.94h31.80M610.51 142.04v31.80M602.36 157.94h31.80M618.26 142.04v31.80M610.10 157.94h31.80M626.00 142.04v31.80M617.85 157.94h31.80M633.75 142.04v31.80M625.59 157.94h31.80M641.49 142.04v31.80M633.34 157.94h31.80M649.24 142.04v31.80M641.09 157.94h31.80M656.99 142.04v31.80M648.83 157.94h31.80M664.73 142.04v31.80M656.58 157.94h31.80M672.48 142.04v31.80M664.32 157.94h31.80M680.22 142.04v31.80M672.07 157.94h31.80M687.97 142.04v31.80M679.81 157.94h31.80M695.71 142.04v31.80M687.56 157.94h31.80M703.46 142.04v31.80M695.30 157.94h31.80M711.20 142.04v31.80M703.05 157.94h31.80M718.95 142.04v31.80M710.80 157.94h31.80M726.70 142.04v31.80M718.54 157.94h31.80M734.44 142.04v31.80M726.29 157.94h31.80M742.19 142.04v31.80M734.03 157.94h31.80M749.93 142.04v31.80M741.78 157.94h31.80M757.68 142.04v31.80M749.52 157.94h31.80M765.42 142.04v31.80M757.27 157.94h31.80M773.17 142.04v31.80M765.01 157.94h31.80M780.91 142.04v31.80M772.76 157.94h31.80M788.66 142.04v31.80M780.51 157.94h31.80M796.41 142.04v31.80M788.25 157.94h31.80M804.15 142.04v31.80M796.00 157.94h31.80M811.90 142.04v31.80M803.74 157.94h31.80M819.64 142.04v31.80M811.49 157.94h31.80M827.39 142.04v31.80M819.23 157.94h31.80M835.13 142.04v31.80M826.98 157.94h31.80M842.88 142.04v31.80M834.72 157.94h31.80M850.62 142.04v31.80M842.47 157.94h31.80M858.37 142.04v31.80M850.22 157.94h31.80M866.12 142.04v31.80M857.96 157.94h31.80M873.86 142.04v31.80M865.71 157.94h31.80M881.61 142.04v31.80M873.45 157.94h31.80M889.35 142.04v31.80M881.20 157.94h31.80M897.10 142.04v31.80M888.94 157.94h31.80M904.84 142.04v31.80M896.69 157.94h31.80M912.59 142.04v31.80M904.43 157.94h31.80M920.33 142.04v31.80M912.18 157.94h31.80M928.08 142.04v31.80M919.93 157.94h31.80M935.83 142.04v31.80M927.67 157.94h31.80M943.57 142.04v31.80M935.42 157.94h31.80M951.32 142.04v31.80M943.16 157.94h31.80M959.06 142.04v31.80M950.91 157.94h31.80M966.81 142.04v31.80M958.65 157.94h31.80M974.55 142.04v31.80M966.40 157.94h31.80M982.30 142.04v31.80M974.14 157.94h31.80M990.04 142.04v31.80M981.89 157.94h31.80M997.79 142.04v31.80M989.63 157.94h31.80M1005.53 142.04v31.80M997.38 157.94h31.80M1013.28 142.04v31.80M1005.13 157.94h31.80M1021.03 142.04v31.80M1012.87 157.94h31.80M1028.77 142.04v31.80M1020.62 157.94h31.80M1036.52 142.04v31.80M1028.36 157.94h31.80M1044.26 142.04v31.80M1036.11 157.94h31.80M1052.01 142.04v31.80M1043.85 157.94h31.80M1059.75 142.04v31.80M1051.60 157.94h31.80M1067.50 142.04v31.80M1059.34 157.94h31.80M1075.24 142.04v31.80M1067.09 157.94h31.80M1082.99 142.04v31.80M1074.84 157.94h31.80M1090.74 142.04v31.80M1082.58 157.94h31.80M1098.48 142.04v31.80M1090.33 157.94h31.80M1106.23 142.04v31.80M1098.07 157.94h31.80M1113.97 142.04v31.80M1105.82 157.94h31.80M1121.72 142.04v31.80M1113.56 157.94h31.80M1129.46 142.04v31.80M1121.31 157.94h31.80M1137.21 142.04v31.80M1129.05 157.94h31.80M1144.95 142.04v31.80M1136.80 157.94h31.80M1152.70 142.04v31.80M1144.55 157.94h31.80M1160.45 142.04v31.80M1152.29 157.94h31.80M1168.19 142.04v31.80M1160.04 157.94h31.80M1175.94 142.04v31.80M1167.78 157.94h31.80M1183.68 142.04v31.80M1175.53 157.94h31.80M1191.43 142.04v31.80M1183.27 157.94h31.80M1199.17 142.04v31.80M1191.02 157.94h31.80M1206.92 142.04v31.80M1198.76 157.94h31.80M1214.66 142.04v31.80M1206.51 157.94h31.80M1222.41 142.04v31.80M1214.26 157.94h31.80M1230.16 142.04v31.80M1222.00 157.94h31.80M1237.90 142.04v31.80M1229.75 157.94h31.80M1245.65 142.04v31.80M1237.49 157.94h31.80M1253.39 142.04v31.80M1245.24 157.94h31.80M1261.14 142.04v31.80M1252.98 157.94h31.80M1268.88 142.04v31.80M1260.73 157.94h31.80M1276.63 142.04v31.80M1268.47 157.94h31.80M1284.37 142.04v31.80M1276.22 157.94h31.80M1292.12 142.04v31.80M1283.97 157.94h31.80M1299.87 142.04v31.80M1291.71 157.94h31.80M1307.61 142.04v31.80M1299.46 157.94h31.80M1315.36 142.04v31.80M1307.20 157.94h31.80M1323.10 142.04v31.80M1314.95 157.94h31.80M1330.85 142.04v31.80M1322.69 157.94h31.80M1338.59 142.04v31.80M1330.44 157.94h31.80M1346.34 142.04v31.80M1338.18 157.94h31.80M1354.08 142.04v31.80M1345.93 157.94h31.80M1361.83 142.04v31.80M1353.67 157.94h31.80M1369.58 142.04v31.80M1361.42 157.94h31.80M1377.32 142.04v31.80M1369.17 157.94h31.80M1385.07 142.04v31.80M1376.91 157.94h31.80M1392.81 142.04v31.80M1384.66 157.94h31.80M1400.56 142.04v31.80M1392.40 157.94h31.80M1408.30 142.04v31.80M1400.15 157.94h31.80M1416.05 142.04v31.80M1407.89 157.94h31.80M1423.79 142.04v31.80M1415.64 157.94h31.80M1431.54 142.04v31.80M1423.38 157.94h31.80M1439.28 142.04v31.80M1431.13 157.94h31.80M1447.03 142.04v31.80M1438.88 157.94h31.80M1454.78 142.04v31.80M1446.62 157.94h31.80M1462.52 142.04v31.80M1454.37 157.94h31.80M1470.27 142.04v31.80M1462.11 157.94h31.80M1478.01 142.04v31.80M1469.86 157.94h31.80M1485.76 142.04v31.80M1477.60 157.94h31.80M1493.50 142.04v31.80M1485.35 157.94h31.80M1501.25 142.04v31.80M1493.09 157.94h31.80M1508.99 142.04v31.80M1500.84 157.94h31.80M1516.74 142.04v31.80M1508.59 157.94h31.80M1524.49 142.04v31.80M1516.33 157.94h31.80M1532.23 142.04v31.80M1524.08 157.94h31.80M1539.98 142.04v31.80M1531.82 157.94h31.80M1547.72 142.04v31.80M1539.57 157.94h31.80M1555.47 142.04v31.80M1547.31 157.94h31.80M1563.21 142.04v31.80M1555.06 157.94h31.80M1570.96 142.04v31.80M1562.80 157.94h31.80M1578.70 142.04v31.80M1570.55 157.94h31.80M1586.45 142.04v31.80M1578.30 157.94h31.80M1594.20 142.04v31.80M1586.04 157.94h31.80M1601.94 142.04v31.80M1593.79 157.94h31.80M1609.69 142.04v31.80M1601.53 157.94h31.80M1617.43 142.04v31.80M1609.28 157.94h31.80M1625.18 142.04v31.80M1617.02 157.94h31.80M1632.92 142.04v31.80M1624.77 157.94h31.80M1640.67 142.04v31.80M1632.51 157.94h31.80M1648.41 142.04v31.80M1640.26 157.94h31.80M1656.16 142.04v31.80M1648.01 157.94h31.80M1663.91 142.04v31.80M1655.75 157.94h31.80M1671.65 142.04v31.80M1663.50 157.94h31.80M1679.40 142.04v31.80M1671.24 157.94h31.80M1687.14 142.04v31.80M1678.99 157.94h31.80M1694.89 142.04v31.80M1686.73 157.94h31.80M1702.63 142.04v31.80M1694.48 157.94h31.80M1710.38 142.04v31.80M1702.22 157.94h31.80M1718.12 142.04v31.80M1709.97 157.94h31.80M1725.87 142.04v31.80M1717.72 157.94h31.80M1733.62 142.04v31.80M1725.46 157.94h31.80M1741.36 142.04v31.80M1733.21 157.94h31.80M1749.11 142.04v31.80M1740.95 157.94h31.80M1756.85 142.04v31.80M1748.70 157.94h31.80M1764.60 142.04v31.80M1756.44 157.94h31.80M1772.34 142.04v31.80M1764.19 157.94h31.80M1780.09 142.04v31.80M1771.93 157.94h31.80M1787.83 142.04v31.80M1779.68 157.94h31.80M1795.58 142.04v31.80M1787.42 157.94h31.80M1803.33 142.04v31.80M1795.17 157.94h31.80M1811.07 142.04v31.80M1802.92 157.94h31.80M1818.82 142.04v31.80M1810.66 157.94h31.80M1826.56 142.04v31.80M1818.41 157.94h31.80M1834.31 142.04v31.80M1826.15 157.94h31.80M1842.05 142.04v31.80M1833.90 157.94h31.80M1849.80 142.04v31.80M1841.64 157.94h31.80M1857.54 142.04v31.80M1849.39 157.94h31.80M1865.29 142.04v31.80M1857.13 157.94h31.80M1873.03 142.04v31.80M1864.88 157.94h31.80M1880.78 142.04v31.80M1872.63 157.94h31.80M1888.53 142.04v31.80M1880.37 157.94h31.80M1896.27 142.04v31.80M1888.12 157.94h31.80M1904.02 142.04v31.80M1895.86 157.94h31.80M1911.76 142.04v31.80M1903.61 157.94h31.80M1919.51 142.04v31.80M1911.35 157.94h31.80M1927.25 142.04v31.80M1919.10 157.94h31.80M1935.00 142.04v31.80M1926.84 157.94h31.80M1942.74 142.04v31.80M1934.59 157.94h31.80M1950.49 142.04v31.80M1942.34 157.94h31.80M1958.24 142.04v31.80M1950.08 157.94h31.80M1965.98 142.04v31.80M1957.83 157.94h31.80M1973.73 142.04v31.80M1965.57 157.94h31.80M1981.47 142.04v31.80M1973.32 157.94h31.80M1989.22 142.04v31.80M1981.06 157.94h31.80M1996.96 142.04v31.80M1988.81 157.94h31.80M2004.71 142.04v31.80M1996.55 157.94h31.80M2012.45 142.04v31.80M2004.30 157.94h31.80M2020.20 142.04v31.80"/>
</g>
<rect x="1240.00" y="255.00" width="521.00" height="308.80" fill="#ffffff" stroke="#1e1e1e" stroke-width="3.00"/>
<g stroke="#0000ff" fill="none" stroke-width="10.30">
<path d="M1256.10 310.30H1415.50" stroke-dasharray="41 10.25 20.5 10.25"/>
<circle cx="1335.80" cy="310.30" r="16.00"/>
</g>
<text class="g" x="1428.50" y="341.10">SDR-LC</text>
<g stroke="#00ff00" fill="none" stroke-width="10.30">
<path d="M1256.10 409.20H1415.50" stroke-dasharray="41 10.25 20.5 10.25"/>
<ellipse cx="1335.80" cy="409.20" rx="15.2" ry="16.1" fill="#00ff00" stroke="none"/>
</g>
<text class="g" x="1428.50" y="440.00">SDR-QC</text>
<g stroke="#ff0000" fill="none" stroke-width="10.30">
<path d="M1256.10 508.20H1415.50" stroke-dasharray="41 10.25 20.5 10.25"/>
<path d="M1319.90 508.20h31.80M1335.80 492.30v31.80"/>
</g>
<text class="g" x="1428.50" y="539.00">ADMM</text>
</svg></body></html>
